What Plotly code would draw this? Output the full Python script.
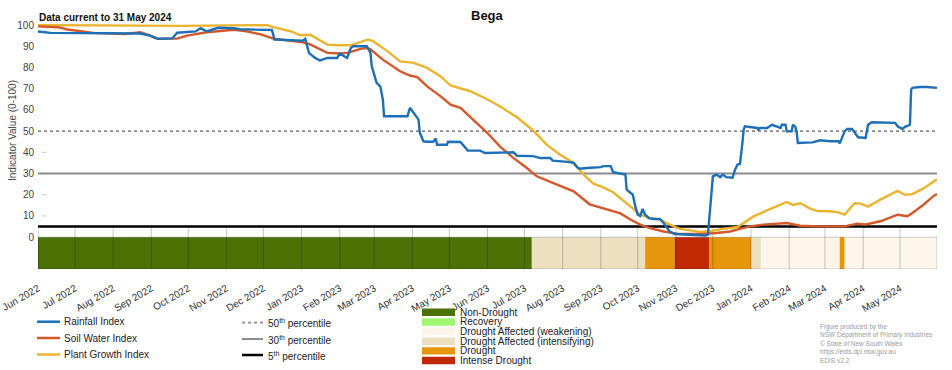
import plotly.graph_objects as go
import pandas as pd

# ---------------- data ----------------
rain_dates = ["2022-06-01", "2022-06-11", "2022-08-23", "2022-08-31", "2022-09-06", "2022-09-18", "2022-09-22",
              "2022-10-07", "2022-10-11", "2022-10-16", "2022-10-25", "2022-11-07", "2022-11-12", "2022-12-08",
              "2022-12-10", "2023-01-02", "2023-01-04", "2023-01-07", "2023-01-12", "2023-01-16", "2023-01-22",
              "2023-01-30", "2023-02-01", "2023-02-07", "2023-02-10", "2023-02-12", "2023-02-23", "2023-02-26",
              "2023-02-27", "2023-03-03", "2023-03-06", "2023-03-08", "2023-03-09", "2023-03-20", "2023-03-28",
              "2023-03-30", "2023-04-03", "2023-04-06", "2023-04-07", "2023-04-10", "2023-04-13", "2023-04-18",
              "2023-04-20", "2023-04-21", "2023-04-29", "2023-04-30", "2023-05-10", "2023-05-12", "2023-05-16",
              "2023-05-26", "2023-05-30", "2023-06-22", "2023-06-25", "2023-07-08", "2023-07-14", "2023-07-22",
              "2023-07-24", "2023-08-05", "2023-08-10", "2023-08-13", "2023-08-15", "2023-08-21", "2023-09-01",
              "2023-09-03", "2023-09-09", "2023-09-11", "2023-09-19", "2023-09-21", "2023-09-22", "2023-09-25",
              "2023-09-27", "2023-09-29", "2023-10-01", "2023-10-03", "2023-10-05", "2023-10-07", "2023-10-10",
              "2023-10-14", "2023-10-19", "2023-10-22", "2023-10-25", "2023-10-27", "2023-10-31", "2023-11-13",
              "2023-11-25", "2023-11-27", "2023-11-29", "2023-11-30", "2023-12-01", "2023-12-04", "2023-12-07",
              "2023-12-09", "2023-12-12", "2023-12-17", "2023-12-19", "2023-12-21", "2023-12-23", "2023-12-25",
              "2023-12-26", "2023-12-27", "2024-01-06", "2024-01-07", "2024-01-08", "2024-01-14", "2024-01-18",
              "2024-01-25", "2024-01-26", "2024-01-29", "2024-01-30", "2024-02-03", "2024-02-04", "2024-02-06",
              "2024-02-07", "2024-02-08", "2024-02-20", "2024-02-26", "2024-03-05", "2024-03-12", "2024-03-13",
              "2024-03-17", "2024-03-19", "2024-03-23", "2024-03-25", "2024-03-28", "2024-04-03", "2024-04-05",
              "2024-04-08", "2024-04-27", "2024-04-29", "2024-05-03", "2024-05-05", "2024-05-09", "2024-05-10",
              "2024-05-11", "2024-05-17", "2024-05-23", "2024-05-31"]
rain_vals = [97.0, 96.3, 96.0, 95.0, 93.5, 93.7, 96.4,
             97.0, 98.5, 97.0, 98.7, 98.5, 98.0, 97.7,
             93.2, 92.6, 93.5, 86.9, 84.5, 83.3, 84.5,
             84.5, 86.6, 84.5, 89.2, 90.0, 90.0, 86.9,
             80.6, 72.7, 71.0, 64.9, 57.0, 57.0, 57.0,
             61.0, 58.0, 55.4, 49.2, 45.2, 45.0, 45.0,
             46.5, 43.6, 43.6, 45.0, 44.9, 43.6, 40.8,
             40.8, 39.7, 40.0, 38.4, 38.2, 37.3, 37.3,
             36.1, 35.5, 35.0, 32.8, 32.3, 32.6, 33.0,
             33.5, 33.5, 30.6, 30.0, 29.5, 22.4, 20.8,
             20.0, 14.5, 10.6, 10.0, 13.3, 10.6, 9.0,
             8.6, 8.6, 6.7, 4.3, 2.7, 1.5, 1.0,
             0.8, 1.2, 14.5, 24.0, 28.7, 29.5, 28.3,
             29.5, 28.3, 28.0, 31.8, 34.2, 34.5, 44.4,
             50.7, 52.3, 51.5, 50.7, 51.5, 51.5, 53.0,
             51.5, 53.0, 53.0, 49.9, 49.9, 53.0, 52.0,
             49.9, 44.4, 44.7, 45.7, 45.2, 45.2, 44.2,
             49.9, 51.0, 51.0, 49.5, 47.1, 46.8, 53.0,
             54.2, 53.9, 52.3, 51.0, 52.0, 53.0, 69.6,
             70.4, 70.8, 70.8, 70.4]

soil_dates = ["2022-06-01", "2022-06-17", "2022-06-25", "2022-07-16", "2022-08-11", "2022-08-23", "2022-08-29",
              "2022-09-06", "2022-09-22", "2022-09-30", "2022-10-16", "2022-10-25", "2022-11-07", "2022-11-16",
              "2022-11-29", "2022-12-09", "2022-12-26", "2023-01-02", "2023-01-08", "2023-01-16", "2023-01-22",
              "2023-02-01", "2023-02-07", "2023-02-18", "2023-02-23", "2023-02-26", "2023-03-08", "2023-03-22",
              "2023-03-30", "2023-04-05", "2023-04-13", "2023-04-24", "2023-05-02", "2023-05-10", "2023-05-16",
              "2023-05-29", "2023-06-01", "2023-06-11", "2023-06-22", "2023-07-03", "2023-07-11", "2023-07-24",
              "2023-08-10", "2023-08-23", "2023-09-06", "2023-09-17", "2023-09-25", "2023-10-03", "2023-10-11",
              "2023-10-22", "2023-11-02", "2023-11-13", "2023-11-23", "2023-12-04", "2023-12-15", "2023-12-23",
              "2023-12-31", "2024-01-11", "2024-01-25", "2024-01-30", "2024-02-10", "2024-02-26", "2024-03-17",
              "2024-03-27", "2024-04-03", "2024-04-15", "2024-04-29", "2024-05-07", "2024-05-11", "2024-05-20",
              "2024-05-29", "2024-05-31"]
soil_vals = [99.4, 99.0, 97.9, 96.3, 95.8, 96.6, 95.5,
             93.6, 93.6, 95.0, 96.6, 97.0, 97.8, 97.2,
             95.6, 93.6, 92.4, 91.9, 90.9, 88.4, 86.9,
             86.6, 86.9, 88.8, 89.2, 88.6, 83.7, 78.2,
             76.2, 75.5, 71.1, 66.4, 62.5, 61.0, 57.8,
             50.7, 49.1, 42.8, 37.4, 32.6, 28.7, 25.6,
             21.6, 15.5, 13.1, 11.2, 8.3, 5.9, 4.3,
             2.7, 1.7, 1.5, 1.5, 2.0, 2.7, 3.9,
             5.1, 5.9, 6.4, 6.7, 5.4, 5.1, 5.1,
             6.4, 6.0, 7.5, 10.6, 9.9, 11.4, 15.3,
             19.8, 20.3]

plant_dates = ["2022-06-01", "2022-09-25", "2022-12-04", "2022-12-09", "2022-12-23", "2022-12-31", "2023-01-08",
               "2023-01-14", "2023-01-22", "2023-02-01", "2023-02-10", "2023-02-16", "2023-02-24", "2023-02-28",
               "2023-03-12", "2023-03-22", "2023-04-02", "2023-04-13", "2023-04-24", "2023-05-02", "2023-05-10",
               "2023-05-18", "2023-06-01", "2023-06-11", "2023-06-25", "2023-07-08", "2023-07-19", "2023-07-30",
               "2023-08-10", "2023-08-18", "2023-08-26", "2023-09-03", "2023-09-11", "2023-09-17", "2023-09-25",
               "2023-10-03", "2023-10-11", "2023-10-19", "2023-10-27", "2023-11-04", "2023-11-13", "2023-11-21",
               "2023-11-29", "2023-12-09", "2023-12-21", "2023-12-26", "2024-01-03", "2024-01-14", "2024-01-25",
               "2024-01-30", "2024-02-04", "2024-02-10", "2024-02-18", "2024-02-24", "2024-03-05", "2024-03-12",
               "2024-03-17", "2024-03-25", "2024-03-30", "2024-04-05", "2024-04-15", "2024-04-29", "2024-05-05",
               "2024-05-11", "2024-05-20", "2024-05-29", "2024-05-31"]
plant_vals = [100.0, 99.6, 100.0, 99.0, 97.1, 95.2, 95.4,
              93.5, 90.8, 90.5, 90.5, 91.6, 93.2, 92.4,
              87.6, 82.9, 82.2, 79.8, 75.8, 71.5, 70.1,
              68.8, 64.9, 61.7, 56.5, 50.3, 43.6, 38.9,
              35.0, 29.5, 25.2, 23.5, 21.2, 18.5, 14.5,
              10.6, 9.1, 8.3, 5.9, 3.9, 3.1, 2.5,
              2.8, 3.9, 4.8, 6.7, 9.8, 12.6, 15.3,
              16.6, 15.2, 16.0, 13.5, 12.3, 12.2, 11.7,
              10.6, 16.0, 15.8, 14.4, 17.7, 21.8, 20.0,
              20.3, 23.0, 26.7, 27.3]

status_start = ["2022-06-01", "2023-07-07", "2023-10-07", "2023-10-31", "2023-11-28",
                "2024-01-01", "2024-01-09", "2024-03-13", "2024-03-17"]
status_end = ["2023-07-07", "2023-10-07", "2023-10-31", "2023-11-28", "2024-01-01",
              "2024-01-09", "2024-03-13", "2024-03-17", "2024-05-31"]
status_cat = ["Non-Drought", "Drought Affected (intensifying)", "Drought", "Intense Drought", "Drought",
              "Drought Affected (intensifying)", "Drought Affected (weakening)", "Drought",
              "Drought Affected (weakening)"]

series_names = ["Rainfall Index", "Soil Water Index", "Plant Growth Index"]
series_colors = ["#1d6fb6", "#d4582a", "#ebb42f"]

percentile_levels = [50, 30, 5]
percentile_labels = ["50<sup>th</sup> percentile", "30<sup>th</sup> percentile", "5<sup>th</sup> percentile"]

status_names = ["Non-Drought", "Recovery", "Drought Affected (weakening)",
                "Drought Affected (intensifying)", "Drought", "Intense Drought"]
status_colors = ["#4b7104", "#a0f773", "#fdf5e9", "#ece0c0", "#e5960b", "#bf2a04"]

month_labels = ["Jun 2022", "Jul 2022", "Aug 2022", "Sep 2022", "Oct 2022", "Nov 2022", "Dec 2022",
                "Jan 2023", "Feb 2023", "Mar 2023", "Apr 2023", "May 2023", "Jun 2023", "Jul 2023",
                "Aug 2023", "Sep 2023", "Oct 2023", "Nov 2023", "Dec 2023", "Jan 2024", "Feb 2024",
                "Mar 2024", "Apr 2024", "May 2024"]
y_ticks = [0, 10, 20, 30, 40, 50, 60, 70, 80, 90, 100]

credits = ["Figure produced by the", "NSW Department of Primary Industries", "\u00a9 State of New South Wales",
           "https://edis.dpi.nsw.gov.au", "EDIS v2.2"]

# ---------------- layout helpers ----------------
W, H = 952, 370
ML, MR, MT, MB = 38, 15, 24, 101
PW = W - ML - MR
PH = H - MT - MB
FONT = "Liberation Sans, Arial, sans-serif"


def px_x(px):
    return (px - ML) / PW


def px_y(py):
    return (H - MB - py) / PH


month_vals = pd.to_datetime(month_labels, format="%b %Y")
color_of = dict(zip(status_names, status_colors))

fig = go.Figure()

series = [(plant_dates, plant_vals, 2), (soil_dates, soil_vals, 1), (rain_dates, rain_vals, 0)]
for d, v, i in series:
    fig.add_trace(go.Scatter(x=pd.to_datetime(d), y=v, mode="lines", name=series_names[i],
                             line=dict(color=series_colors[i], width=2.4), hoverinfo="x+y+name"))

shapes = []
# status bar
for s, e, c in zip(status_start, status_end, status_cat):
    shapes.append(dict(type="rect", xref="x", yref="y", x0=s, x1=e, y0=-15, y1=0,
                       fillcolor=color_of[c], line=dict(width=0), layer="below"))
shapes.append(dict(type="rect", xref="x", yref="y", x0=status_start[0], x1=status_end[-1], y0=-15, y1=0,
                   fillcolor="rgba(0,0,0,0)", line=dict(width=1, color="rgba(0,0,0,0.2)"), layer="below"))
# month lines
for m in month_vals:
    shapes.append(dict(type="line", xref="x", yref="y", x0=m, x1=m, y0=-15, y1=5,
                       line=dict(width=1, color="rgba(0,0,0,0.22)"), layer="below"))
# small status-bar ticks
for x0, x1 in [(0, px_x(ML + 8)), (px_x(W - MR - 9), 1)]:
    shapes.append(dict(type="line", xref="paper", yref="y", x0=x0, x1=x1, y0=-7.5, y1=-7.5,
                       line=dict(width=1, color="rgba(0,0,0,0.25)"), layer="below"))
# small y ticks
for yt in [10, 20, 40]:
    shapes.append(dict(type="line", xref="paper", yref="y", x0=px_x(42), x1=px_x(47), y0=yt, y1=yt,
                       line=dict(width=1, color="#cccccc"), layer="below"))
# percentile lines
pct_styles = [dict(color="#8a8a8a", width=1.8, dash="dot"),
              dict(color="#8c8c8c", width=2),
              dict(color="#000000", width=2.5)]
for lvl, st in zip(percentile_levels, pct_styles):
    shapes.append(dict(type="line", xref="paper", yref="y", x0=0, x1=1, y0=lvl, y1=lvl,
                       line=st, layer="below"))

annotations = []
# title & subtitle
annotations.append(dict(text="<b>Bega</b>", xref="paper", yref="paper", x=px_x(487), y=px_y(15),
                        xanchor="center", yanchor="middle", showarrow=False,
                        font=dict(family=FONT, size=13, color="#111")))
annotations.append(dict(text="<b>Data current to 31 May 2024</b>", xref="paper", yref="paper",
                        x=px_x(37), y=px_y(18), xanchor="left", yanchor="middle", showarrow=False,
                        font=dict(family=FONT, size=10, color="#111")))
annotations.append(dict(text="Indicator Value (0-100)", xref="paper", yref="paper", x=px_x(12), y=px_y(131),
                        xanchor="center", yanchor="middle", textangle=-90, showarrow=False,
                        font=dict(family=FONT, size=10, color="#444")))

# legend: indices
line_rows = [321.7, 338.0, 354.5]
for name, col, py in zip(series_names, series_colors, line_rows):
    shapes.append(dict(type="line", xref="paper", yref="paper", x0=px_x(37), x1=px_x(60), y0=px_y(py),
                       y1=px_y(py), line=dict(color=col, width=2.5)))
    annotations.append(dict(text=name, xref="paper", yref="paper", x=px_x(62), y=px_y(py),
                            xanchor="left", yanchor="middle", showarrow=False,
                            font=dict(family=FONT, size=10, color="#222")))
# legend: percentiles
pct_rows = [322.7, 339.0, 355.0]
for lab, st, py in zip(percentile_labels, pct_styles, pct_rows):
    shapes.append(dict(type="line", xref="paper", yref="paper", x0=px_x(242), x1=px_x(263), y0=px_y(py),
                       y1=px_y(py), line=st))
    annotations.append(dict(text=lab, xref="paper", yref="paper", x=px_x(266), y=px_y(py + 0.5),
                            xanchor="left", yanchor="middle", showarrow=False,
                            font=dict(family=FONT, size=10, color="#222")))
# legend: status
for i, (name, col) in enumerate(zip(status_names, status_colors)):
    py = 312.3 + i * 9.64
    shapes.append(dict(type="rect", xref="paper", yref="paper", x0=px_x(422), x1=px_x(455),
                       y0=px_y(py + 3.7), y1=px_y(py - 3.7), fillcolor=col, line=dict(width=0)))
    annotations.append(dict(text=name, xref="paper", yref="paper", x=px_x(458), y=px_y(py),
                            xanchor="left", yanchor="middle", showarrow=False,
                            font=dict(family=FONT, size=10, color="#222")))
# credits
for i, t in enumerate(credits):
    annotations.append(dict(text=t, xref="paper", yref="paper", x=px_x(818), y=px_y(326.5 + i * 8.6),
                            xanchor="left", yanchor="middle", showarrow=False,
                            font=dict(family=FONT, size=6.5, color="#9a9a9a")))

fig.update_layout(
    width=W, height=H,
    margin=dict(l=ML, r=MR, t=MT, b=MB, pad=0),
    paper_bgcolor="white", plot_bgcolor="white",
    showlegend=False,
    font=dict(family=FONT, size=10, color="#333"),
    shapes=shapes, annotations=annotations,
    xaxis=dict(type="date", range=["2022-06-01", "2024-05-31"], tickvals=month_vals, ticktext=month_labels,
               tickangle=-30, tickfont=dict(size=10, color="#333"), showgrid=False, zeroline=False,
               showline=False, ticks="outside", ticklen=9, tickcolor="rgba(0,0,0,0)", automargin=False),
    yaxis=dict(range=[-15, 100.5], tickvals=y_ticks, tickfont=dict(size=10, color="#444"), showgrid=False,
               zeroline=False, showline=False, ticks="", automargin=False, ticklabelstandoff=3),
)

fig.write_html("out.html", config={"displayModeBar": False},
               post_script="document.body.style.margin='0';document.body.style.overflow='hidden';")
